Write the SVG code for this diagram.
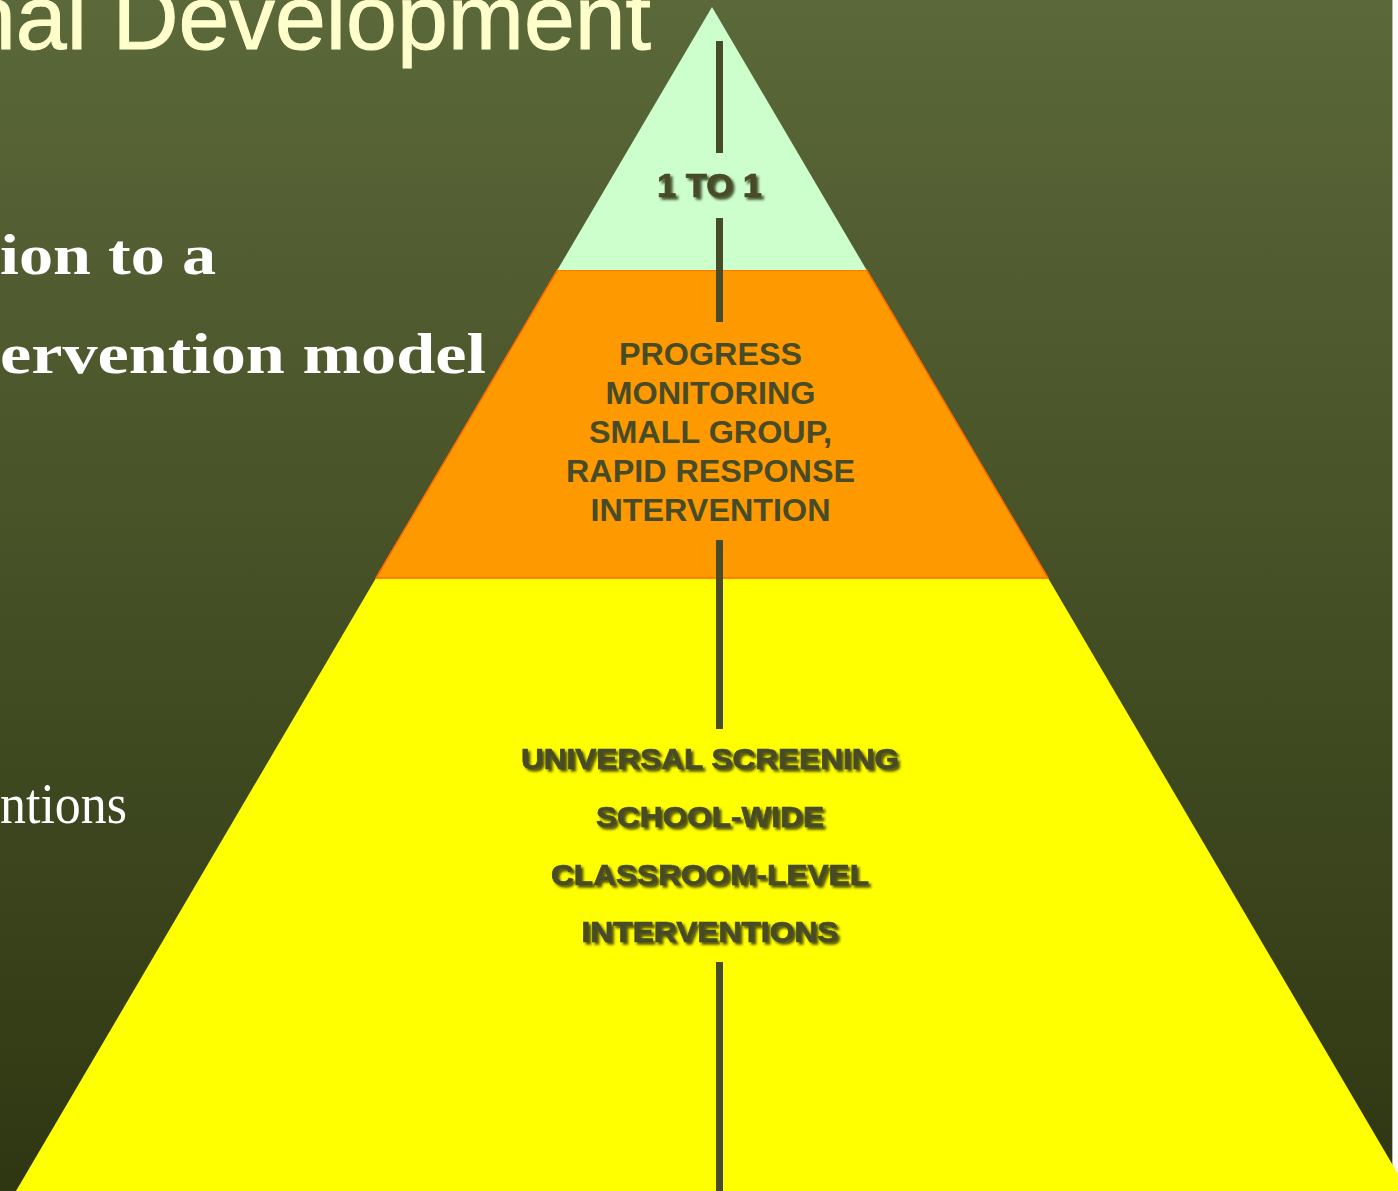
<svg xmlns="http://www.w3.org/2000/svg" width="1398" height="1191" viewBox="0 0 1398 1191">
  <defs>
    <linearGradient id="bg" x1="0" y1="0" x2="0" y2="1">
      <stop offset="0" stop-color="#5b6839"/>
      <stop offset="1" stop-color="#2f3712"/>
    </linearGradient>
    <filter id="shadow" x="-10%" y="-30%" width="120%" height="160%">
      <feDropShadow dx="2.5" dy="2.5" stdDeviation="1.2" flood-color="#1a1a00" flood-opacity="0.75"/>
    </filter>
    <style>
      .title { font-family: "Liberation Sans", Arial, sans-serif; font-size: 91px; fill: #ffffcc; stroke: #ffffcc; stroke-width: 1; }
      .serifb { font-family: "Liberation Serif", "Times New Roman", serif; font-weight: bold; font-size: 58px; fill: #ffffff; }
      .serif { font-family: "Liberation Serif", "Times New Roman", serif; font-size: 56px; fill: #ffffff; }
      .lbl { font-family: "Liberation Sans", Arial, sans-serif; font-weight: bold; fill: #474b28; text-anchor: middle; }
      .heavy { stroke: #474b28; stroke-width: 0.7; }
      .axis { fill: #474b28; }
    </style>
  </defs>

  <rect x="0" y="0" width="1398" height="1191" fill="#ffffff"/>
  <rect x="0" y="0" width="1392" height="1191" fill="url(#bg)"/>
  <line x1="1392.5" y1="0" x2="1392.5" y2="1191" stroke="#b8b8a8" stroke-width="1"/>

  <g id="background-text">
    <text class="title" x="-35" y="49" textLength="686" lengthAdjust="spacingAndGlyphs">nal Development</text>
    <text class="serifb" x="0" y="274" textLength="216" lengthAdjust="spacingAndGlyphs">ion to a</text>
    <text class="serifb" x="0" y="373" textLength="486" lengthAdjust="spacingAndGlyphs">ervention model</text>
    <text class="serif" x="0" y="823" textLength="127" lengthAdjust="spacingAndGlyphs">ntions</text>
  </g>

  <g id="tier-universal">
    <polygon points="376,578 1048,578 1408,1191 16,1191" fill="#ffff00"/>
  </g>
  <g id="tier-small-group">
    <polygon points="557.4,270 866.6,270 1048,578 376,578" fill="#ff9900" stroke="#ff6a00" stroke-width="1.5" stroke-linejoin="round"/>
  </g>
  <g id="tier-one-to-one">
    <polygon points="712,7 866.6,270 557.4,270" fill="#ccffcc"/>
  </g>

  <g id="connectors">
    <rect class="axis" x="716" y="41" width="7" height="112"/>
    <rect class="axis" x="716" y="218" width="7" height="104"/>
    <rect class="axis" x="716" y="540" width="7" height="189"/>
    <rect class="axis" x="716" y="962" width="7" height="229"/>
  </g>

  <g id="label-one-to-one" filter="url(#shadow)">
    <text class="lbl heavy" x="709.5" y="197" font-size="33" textLength="105" lengthAdjust="spacingAndGlyphs">1 TO 1</text>
  </g>

  <g id="label-small-group">
    <text class="lbl" x="710.5" y="365" font-size="31" textLength="183" lengthAdjust="spacingAndGlyphs">PROGRESS</text>
    <text class="lbl" x="710.5" y="404" font-size="31" textLength="210" lengthAdjust="spacingAndGlyphs">MONITORING</text>
    <text class="lbl" x="710.5" y="443" font-size="31" textLength="243" lengthAdjust="spacingAndGlyphs">SMALL GROUP,</text>
    <text class="lbl" x="710.5" y="482" font-size="31" textLength="289" lengthAdjust="spacingAndGlyphs">RAPID RESPONSE</text>
    <text class="lbl" x="710.5" y="521" font-size="31" textLength="240" lengthAdjust="spacingAndGlyphs">INTERVENTION</text>
  </g>

  <g id="label-universal" filter="url(#shadow)">
    <text class="lbl heavy" x="710" y="769" font-size="29.5" textLength="378" lengthAdjust="spacingAndGlyphs">UNIVERSAL SCREENING</text>
    <text class="lbl heavy" x="710" y="827" font-size="29.5" textLength="228" lengthAdjust="spacingAndGlyphs">SCHOOL-WIDE</text>
    <text class="lbl heavy" x="710" y="885" font-size="29.5" textLength="318" lengthAdjust="spacingAndGlyphs">CLASSROOM-LEVEL</text>
    <text class="lbl heavy" x="710" y="942" font-size="29.5" textLength="257" lengthAdjust="spacingAndGlyphs">INTERVENTIONS</text>
  </g>
</svg>
